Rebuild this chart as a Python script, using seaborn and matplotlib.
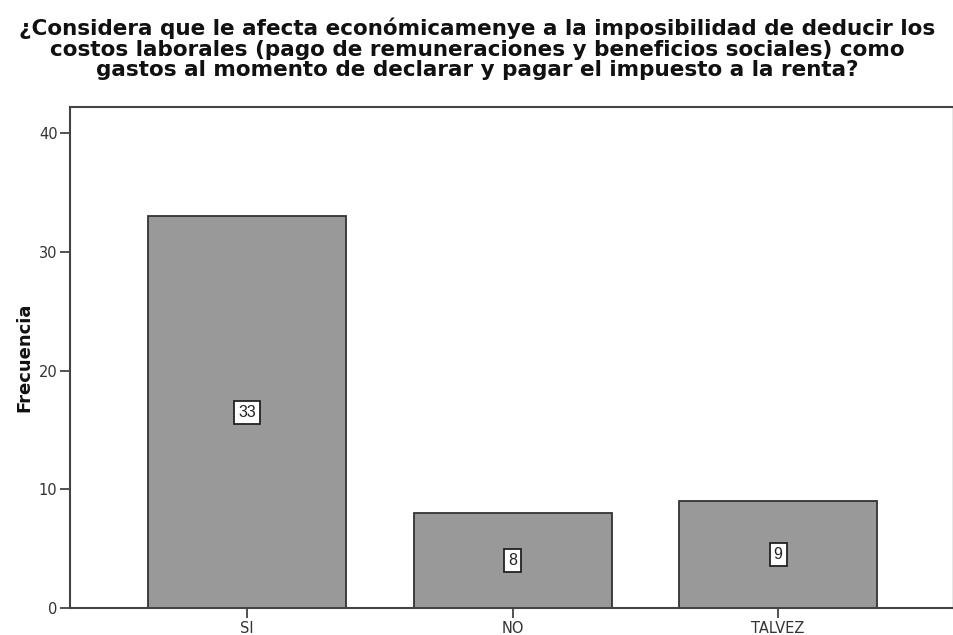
import matplotlib.pyplot as plt
import pandas as pd
import seaborn as sns

categorias = ["SI", "NO", "TALVEZ"]
frecuencias = [33, 8, 9]

titulo = (
    "¿Considera que le afecta económicamenye a la imposibilidad de deducir los\n"
    "costos laborales (pago de remuneraciones y beneficios sociales) como\n"
    "gastos al momento de declarar y pagar el impuesto a la renta?"
)

df = pd.DataFrame({"Respuesta": categorias, "Frecuencia": frecuencias})

sns.set_style("white")
plt.rcParams["font.family"] = ["DejaVu Sans"]

fig = plt.figure(figsize=(9.54, 6.35), dpi=100)
ax = fig.add_axes([0.0734, 0.0425, 0.9256, 0.789])

sns.barplot(
    data=df,
    x="Respuesta",
    y="Frecuencia",
    order=categorias,
    color="#999999",
    saturation=1,
    width=0.746,
    edgecolor="#333333",
    linewidth=1.3,
    ax=ax,
)

# etiquetas con recuadro a media altura de cada barra
for i, v in enumerate(frecuencias):
    ax.text(
        i, v / 2, str(v),
        ha="center", va="center", fontsize=11.5, color="#222222",
        family="Liberation Sans",
        bbox=dict(boxstyle="square,pad=0.25", facecolor="white", edgecolor="#222222", linewidth=1.3),
    )

ax.set_xlim(-0.667, 2.659)
ax.set_ylim(0, 42.2)
ax.set_yticks([0, 10, 20, 30, 40])
ax.set_xlabel("")
ax.set_ylabel("Frecuencia", fontsize=13, fontweight="bold", labelpad=4, color="#111111")

for lado in ["left", "bottom", "top"]:
    ax.spines[lado].set_color("#444444")
    ax.spines[lado].set_linewidth(1.5)
ax.spines["right"].set_color("#888888")
ax.spines["right"].set_linewidth(1.0)

ax.tick_params(axis="y", direction="out", length=7, width=1.3, color="#444444",
               labelsize=10.5, labelcolor="#333333", left=True, pad=2)
ax.tick_params(axis="x", direction="out", length=7, width=1.3, color="#444444",
               labelsize=10.5, labelcolor="#333333", bottom=True, pad=2)

fig.suptitle(titulo, fontsize=15.5, fontweight="bold", y=0.972, linespacing=1.03, color="#111111")

fig.savefig("out.png", dpi=100)
